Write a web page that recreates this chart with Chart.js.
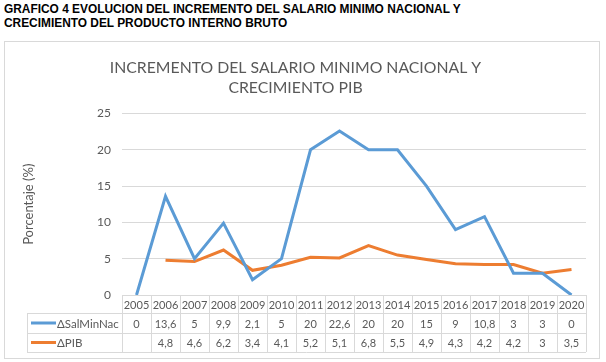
<!DOCTYPE html>
<html>
<head>
<meta charset="utf-8">
<script src="https://cdn.jsdelivr.net/npm/chart.js@4.4.1/dist/chart.umd.min.js"></script>
<style>
  html, body { margin: 0; padding: 0; background: #fff; }
  body { width: 606px; height: 362px; position: relative; overflow: hidden; }
  #page-title {
    position: absolute; left: 4px; top: 2px;
    font-family: "Liberation Sans", Arial, sans-serif; font-weight: bold;
    font-size: 11.9px; line-height: 14px; color: #000;
  }
  #chart-box {
    position: absolute; left: 4px; top: 41px; width: 594px; height: 316px;
    border: 1px solid #d9d9d9;
  }
  canvas { display: block; }
</style>
</head>
<body>
<div id="page-title">GRAFICO 4 EVOLUCION DEL INCREMENTO DEL SALARIO MINIMO NACIONAL Y<br>CRECIMIENTO DEL PRODUCTO INTERNO BRUTO</div>
<div id="chart-box"><canvas id="chart" width="594" height="316"></canvas></div>
<script>
// ── Data ──────────────────────────────────────────────
const years = ['2005', '2006', '2007', '2008', '2009', '2010', '2011', '2012', '2013', '2014', '2015', '2016', '2017', '2018', '2019', '2020'];
const salMinNac = [0, 13.6, 5, 9.9, 2.1, 5, 20, 22.6, 20, 20, 15, 9, 10.8, 3, 3, 0];
const pib = [null, 4.8, 4.6, 6.2, 3.4, 4.1, 5.2, 5.1, 6.8, 5.5, 4.9, 4.3, 4.2, 4.2, 3, 3.5];
const seriesNames = ['ΔSalMinNac', 'ΔPIB'];
const yTicks = [0, 5, 10, 15, 20, 25];

const BLUE = '#5b9bd5';
const ORANGE = '#ed7d31';
const GRID = '#d9d9d9';
const TEXT = '#595959';
const FONT = 'Lato, "Open Sans", sans-serif';

const fmt = v => (v === null || v === undefined) ? '' : String(v).replace('.', ',');

// ── Data table under the plot ─────────────────────────
const dataTable = {
    id: 'dataTable',
    afterDraw(chart) {
        const ctx = chart.ctx;
        const x = chart.scales.x;
        const area = chart.chartArea;
        const top = area.bottom;
        const rowH = [18, 20, 19];
        const colW = x.getPixelForValue(1) - x.getPixelForValue(0);
        const left = area.left;
        const right = area.right;
        const legendLeft = 22;
        const y1 = top + rowH[0];
        const y2 = y1 + rowH[1];
        const y3 = y2 + rowH[2];

        ctx.save();
        ctx.strokeStyle = GRID;
        ctx.lineWidth = 1;
        ctx.beginPath();
        // horizontal lines
        ctx.moveTo(left, top + 0.5); ctx.lineTo(right, top + 0.5);
        [y1, y2, y3].forEach(y => { ctx.moveTo(legendLeft, y + 0.5); ctx.lineTo(right, y + 0.5); });
        // vertical lines
        ctx.moveTo(legendLeft + 0.5, y1); ctx.lineTo(legendLeft + 0.5, y3);
        for (let i = 0; i <= years.length; i++) {
            const px = Math.round(left + i * colW) + 0.5;
            ctx.moveTo(px, top); ctx.lineTo(px, y3);
        }
        ctx.stroke();

        ctx.fillStyle = TEXT;
        ctx.font = '11px ' + FONT;
        ctx.textAlign = 'center';
        ctx.textBaseline = 'middle';
        years.forEach((yr, i) => {
            const cx = x.getPixelForValue(i);
            ctx.fillText(yr, cx, top + rowH[0] / 2 + 1);
            ctx.fillText(fmt(salMinNac[i]), cx, y1 + rowH[1] / 2 + 1);
            ctx.fillText(fmt(pib[i]), cx, y2 + rowH[2] / 2 + 1);
        });

        // legend keys
        ctx.font = '11.5px ' + FONT;
        const keys = [[BLUE, seriesNames[0], y1 + rowH[1] / 2], [ORANGE, seriesNames[1], y2 + rowH[2] / 2]];
        keys.forEach(([col, name, cy]) => {
            ctx.strokeStyle = col;
            ctx.lineWidth = 3;
            ctx.beginPath();
            ctx.moveTo(legendLeft + 4, cy); ctx.lineTo(legendLeft + 29, cy);
            ctx.stroke();
            ctx.fillStyle = TEXT;
            ctx.textAlign = 'left';
            ctx.fillText(name, legendLeft + 30, cy + 1);
        });
        ctx.restore();
    }
};

new Chart(document.getElementById('chart'), {
    type: 'line',
    data: {
        labels: years,
        datasets: [
            { label: seriesNames[0], data: salMinNac, borderColor: BLUE, backgroundColor: BLUE, borderWidth: 3, pointRadius: 0, tension: 0 },
            { label: seriesNames[1], data: pib, borderColor: ORANGE, backgroundColor: ORANGE, borderWidth: 3, pointRadius: 0, tension: 0 }
        ]
    },
    options: {
        responsive: false,
        animation: false,
        layout: { padding: { left: 0, right: 13, top: 0, bottom: 63 } },
        scales: {
            x: { type: 'category', display: false, offset: true },
            y: {
                min: 0, max: 25,
                afterBuildTicks: s => { s.ticks = yTicks.map(v => ({ value: v })); },
                afterFit: s => { s.width = 117; },
                border: { display: false },
                grid: { color: GRID, lineWidth: 1, drawTicks: false },
                ticks: { color: TEXT, font: { family: FONT, size: 12 }, padding: 11 },
                title: { display: true, text: 'Porcentaje (%)', color: TEXT, font: { family: FONT, size: 13 }, padding: { top: 16 } }
            }
        },
        plugins: {
            legend: { display: false },
            tooltip: { enabled: false },
            title: {
                display: true,
                text: ['INCREMENTO DEL SALARIO MINIMO NACIONAL Y', 'CRECIMIENTO PIB'],
                color: TEXT,
                font: { family: FONT, size: 15.8, weight: 'normal', lineHeight: 1.25 },
                padding: { top: 16, bottom: 16 }
            }
        }
    },
    plugins: [dataTable]
});
</script>
</body>
</html>
